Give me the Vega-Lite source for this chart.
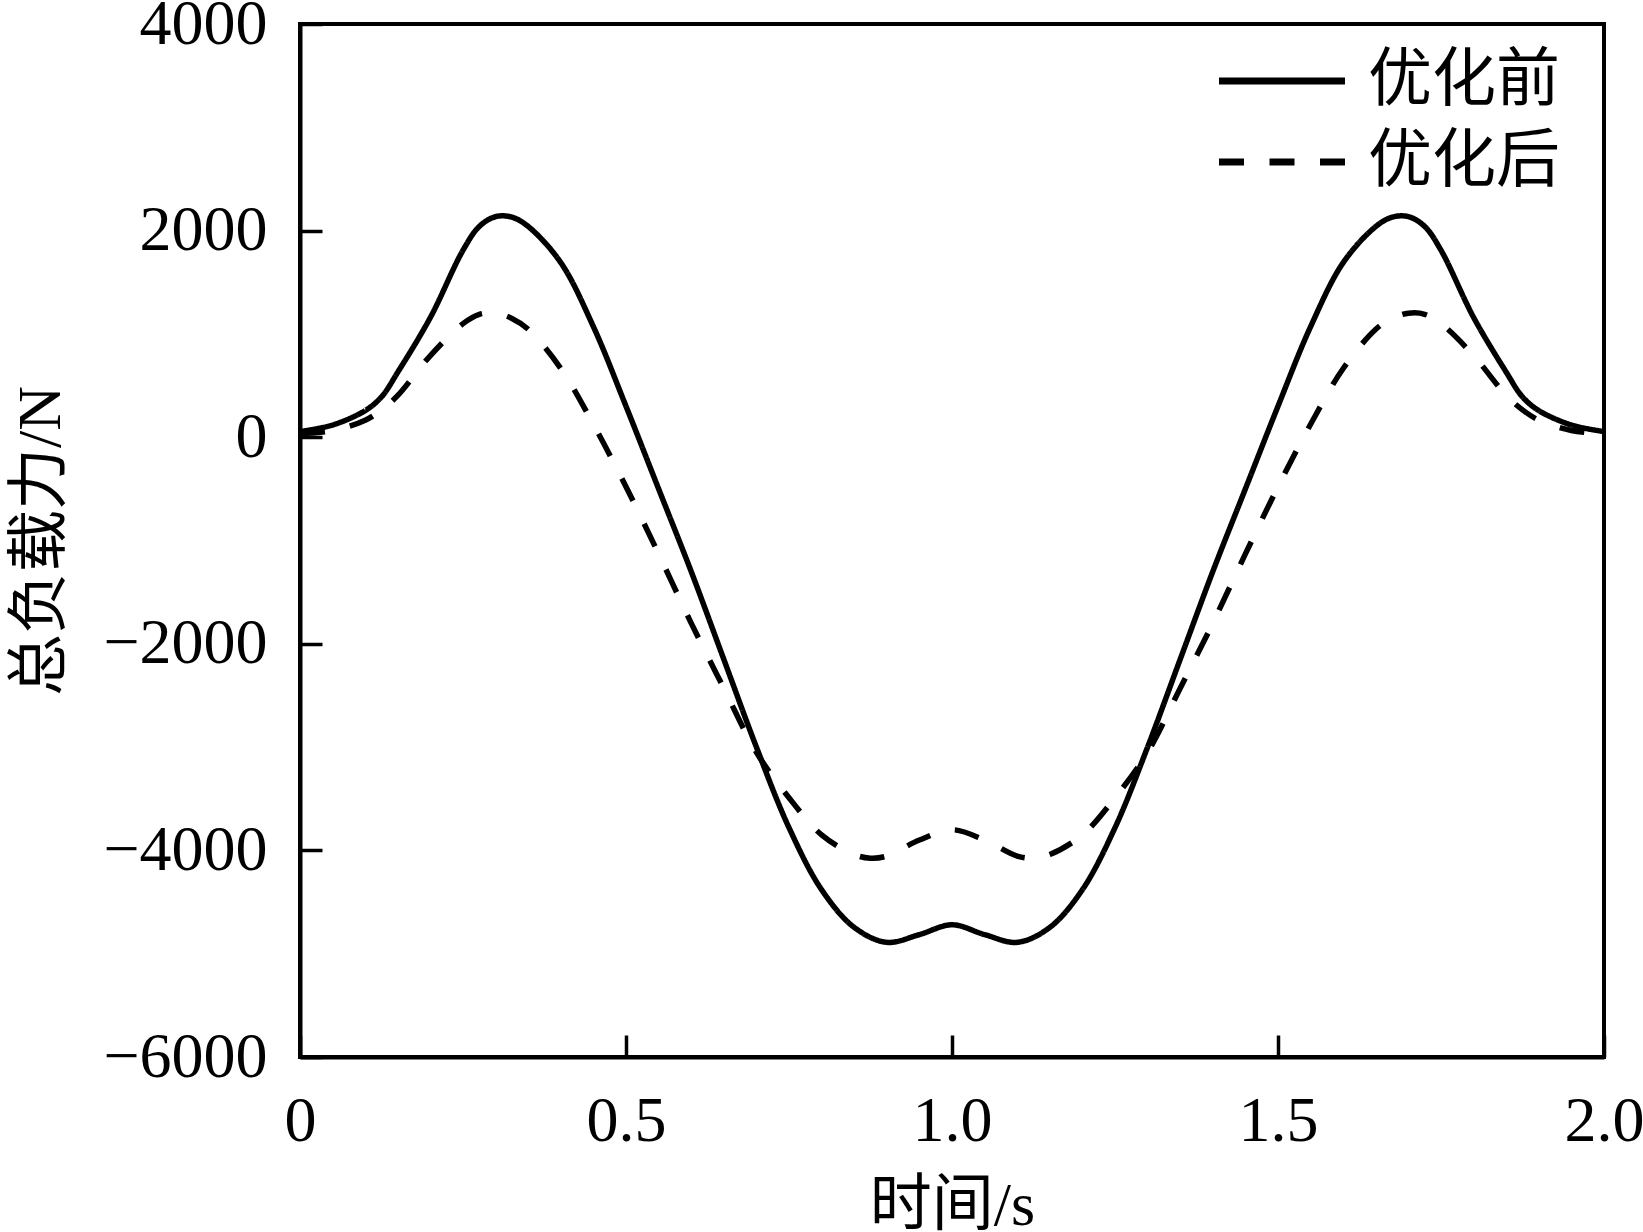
{
  "$schema": "https://vega.github.io/schema/vega-lite/v6.json",
  "width": 1304,
  "height": 1033,
  "autosize": {"type": "none"},
  "padding": {"left": 300, "top": 24, "right": 39, "bottom": 175},
  "background": "white",
  "config": {
    "view": {"stroke": "black", "strokeWidth": 4},
    "axis": {
      "grid": false,
      "domainColor": "black",
      "domainWidth": 4,
      "tickColor": "black",
      "tickWidth": 3.5,
      "tickSize": -22,
      "labelFont": "Liberation Serif",
      "labelFontSize": 64,
      "labelColor": "black",
      "titleFont": "Liberation Serif, Noto Sans CJK SC",
      "titleFontSize": 62,
      "titleFontWeight": "normal",
      "titleColor": "black"
    }
  },
  "data": {
    "values": [
      {"t": 0, "v": 55, "s": "优化前"},
      {"t": 0.05, "v": 118, "s": "优化前"},
      {"t": 0.1, "v": 258, "s": "优化前"},
      {"t": 0.125, "v": 390, "s": "优化前"},
      {"t": 0.15, "v": 630, "s": "优化前"},
      {"t": 0.2, "v": 1160, "s": "优化前"},
      {"t": 0.25, "v": 1810, "s": "优化前"},
      {"t": 0.275, "v": 2040, "s": "优化前"},
      {"t": 0.3, "v": 2135, "s": "优化前"},
      {"t": 0.325, "v": 2130, "s": "优化前"},
      {"t": 0.35, "v": 2040, "s": "优化前"},
      {"t": 0.4, "v": 1690, "s": "优化前"},
      {"t": 0.45, "v": 1070, "s": "优化前"},
      {"t": 0.5, "v": 300, "s": "优化前"},
      {"t": 0.55, "v": -500, "s": "优化前"},
      {"t": 0.6, "v": -1300, "s": "优化前"},
      {"t": 0.65, "v": -2150, "s": "优化前"},
      {"t": 0.7, "v": -3000, "s": "优化前"},
      {"t": 0.75, "v": -3780, "s": "优化前"},
      {"t": 0.8, "v": -4380, "s": "优化前"},
      {"t": 0.85, "v": -4745, "s": "优化前"},
      {"t": 0.9, "v": -4890, "s": "优化前"},
      {"t": 0.95, "v": -4815, "s": "优化前"},
      {"t": 1.0, "v": -4720, "s": "优化前"},
      {"t": 1.05, "v": -4815, "s": "优化前"},
      {"t": 1.1, "v": -4890, "s": "优化前"},
      {"t": 1.15, "v": -4745, "s": "优化前"},
      {"t": 1.2, "v": -4380, "s": "优化前"},
      {"t": 1.25, "v": -3780, "s": "优化前"},
      {"t": 1.3, "v": -3000, "s": "优化前"},
      {"t": 1.35, "v": -2150, "s": "优化前"},
      {"t": 1.4, "v": -1300, "s": "优化前"},
      {"t": 1.45, "v": -500, "s": "优化前"},
      {"t": 1.5, "v": 300, "s": "优化前"},
      {"t": 1.55, "v": 1070, "s": "优化前"},
      {"t": 1.6, "v": 1690, "s": "优化前"},
      {"t": 1.65, "v": 2040, "s": "优化前"},
      {"t": 1.675, "v": 2130, "s": "优化前"},
      {"t": 1.7, "v": 2135, "s": "优化前"},
      {"t": 1.725, "v": 2040, "s": "优化前"},
      {"t": 1.75, "v": 1810, "s": "优化前"},
      {"t": 1.8, "v": 1160, "s": "优化前"},
      {"t": 1.85, "v": 630, "s": "优化前"},
      {"t": 1.875, "v": 390, "s": "优化前"},
      {"t": 1.9, "v": 258, "s": "优化前"},
      {"t": 1.95, "v": 118, "s": "优化前"},
      {"t": 2.0, "v": 55, "s": "优化前"},
      {"t": 0, "v": 35, "s": "优化后"},
      {"t": 0.05, "v": 65, "s": "优化后"},
      {"t": 0.1, "v": 165, "s": "优化后"},
      {"t": 0.125, "v": 265, "s": "优化后"},
      {"t": 0.15, "v": 405, "s": "优化后"},
      {"t": 0.2, "v": 790, "s": "优化后"},
      {"t": 0.25, "v": 1100, "s": "优化后"},
      {"t": 0.275, "v": 1190, "s": "优化后"},
      {"t": 0.3, "v": 1200, "s": "优化后"},
      {"t": 0.325, "v": 1150, "s": "优化后"},
      {"t": 0.35, "v": 1045, "s": "优化后"},
      {"t": 0.4, "v": 665, "s": "优化后"},
      {"t": 0.45, "v": 125, "s": "优化后"},
      {"t": 0.5, "v": -480, "s": "优化后"},
      {"t": 0.55, "v": -1130, "s": "优化后"},
      {"t": 0.6, "v": -1800, "s": "优化后"},
      {"t": 0.65, "v": -2430, "s": "优化后"},
      {"t": 0.7, "v": -3050, "s": "优化后"},
      {"t": 0.75, "v": -3490, "s": "优化后"},
      {"t": 0.8, "v": -3850, "s": "优化后"},
      {"t": 0.85, "v": -4040, "s": "优化后"},
      {"t": 0.875, "v": -4075, "s": "优化后"},
      {"t": 0.9, "v": -4055, "s": "优化后"},
      {"t": 0.95, "v": -3900, "s": "优化后"},
      {"t": 1.0, "v": -3800, "s": "优化后"},
      {"t": 1.05, "v": -3900, "s": "优化后"},
      {"t": 1.1, "v": -4055, "s": "优化后"},
      {"t": 1.125, "v": -4075, "s": "优化后"},
      {"t": 1.15, "v": -4040, "s": "优化后"},
      {"t": 1.2, "v": -3850, "s": "优化后"},
      {"t": 1.25, "v": -3490, "s": "优化后"},
      {"t": 1.3, "v": -3050, "s": "优化后"},
      {"t": 1.35, "v": -2430, "s": "优化后"},
      {"t": 1.4, "v": -1800, "s": "优化后"},
      {"t": 1.45, "v": -1130, "s": "优化后"},
      {"t": 1.5, "v": -480, "s": "优化后"},
      {"t": 1.55, "v": 125, "s": "优化后"},
      {"t": 1.6, "v": 665, "s": "优化后"},
      {"t": 1.65, "v": 1045, "s": "优化后"},
      {"t": 1.675, "v": 1150, "s": "优化后"},
      {"t": 1.7, "v": 1200, "s": "优化后"},
      {"t": 1.725, "v": 1190, "s": "优化后"},
      {"t": 1.75, "v": 1100, "s": "优化后"},
      {"t": 1.8, "v": 790, "s": "优化后"},
      {"t": 1.85, "v": 405, "s": "优化后"},
      {"t": 1.875, "v": 265, "s": "优化后"},
      {"t": 1.9, "v": 165, "s": "优化后"},
      {"t": 1.95, "v": 65, "s": "优化后"},
      {"t": 2.0, "v": 35, "s": "优化后"}
    ]
  },
  "mark": {"type": "line", "stroke": "black", "strokeWidth": 5.5, "interpolate": "catmull-rom", "clip": true},
  "encoding": {
    "x": {
      "field": "t",
      "type": "quantitative",
      "scale": {"domain": [0, 2], "nice": false, "zero": false},
      "axis": {
        "title": "时间/s",
        "values": [0, 0.5, 1, 1.5, 2],
        "labelExpr": "datum.value == 0 ? '0' : format(datum.value, '.1f')",
        "labelPadding": 54,
        "titlePadding": 22,
        "labelFlush": false
      }
    },
    "y": {
      "field": "v",
      "type": "quantitative",
      "scale": {"domain": [-6000, 4000], "nice": false, "zero": false},
      "axis": {
        "title": "总负载力/N",
        "values": [-6000, -4000, -2000, 0, 2000, 4000],
        "format": "d",
        "labelPadding": 55,
        "titlePadding": 30,
        "labelFlush": false
      }
    },
    "strokeDash": {
      "field": "s",
      "type": "nominal",
      "scale": {"domain": ["优化前", "优化后"], "range": [[1, 0], [25, 25.5]]},
      "legend": {
        "orient": "none",
        "legendX": 950,
        "legendY": 25,
        "title": null,
        "padding": 0,
        "symbolType": "M-4,0H4",
        "symbolSize": 992,
        "symbolStrokeWidth": 7,
        "symbolStrokeColor": "black",
        "symbolFillColor": "transparent",
        "labelFont": "Liberation Serif, Noto Sans CJK SC",
        "labelFontSize": 64,
        "labelColor": "black",
        "labelOffset": 54,
        "labelLimit": 400,
        "rowPadding": 17
      }
    }
  }
}
